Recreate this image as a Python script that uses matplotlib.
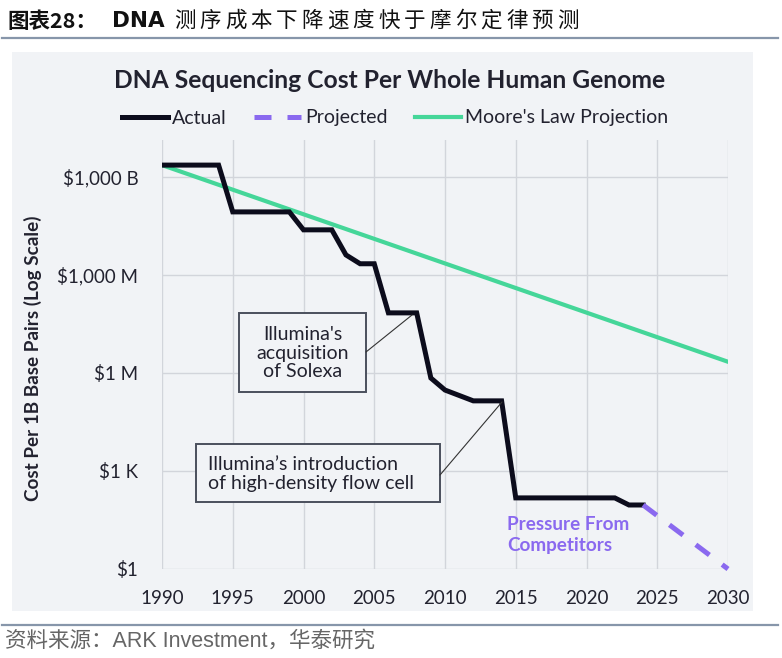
import matplotlib
matplotlib.use("Agg")
import matplotlib.pyplot as plt
from matplotlib.patches import Rectangle
from matplotlib.ticker import NullLocator, FixedLocator, FixedFormatter

# ---------------- data ----------------
actual_years = [1990, 1994, 1995, 1999, 2000, 2002, 2003, 2004, 2005, 2006, 2008,
                2009, 2010, 2012, 2014, 2015, 2022, 2023, 2024]
actual_cost = [2.3e12, 2.3e12, 8.5e10, 8.5e10, 2.4e10, 2.4e10, 4.1e9, 2.2e9, 2.2e9,
               6.9e7, 6.9e7, 7.0e5, 3.0e5, 1.4e5, 1.4e5, 150, 150, 91, 91]
proj_years = [2024, 2030]
proj_cost = [91, 1]
moore_years = [1990, 2030]
moore_cost = [2.3e12, 2.2e6]

ytick_vals = [1, 1e3, 1e6, 1e9, 1e12]
ytick_labels = ["$1", "$1 K", "$1 M", "$1,000 M", "$1,000 B"]
xtick_vals = [1990, 1995, 2000, 2005, 2010, 2015, 2020, 2025, 2030]

# ---------------- style ----------------
W, H = 782, 658
FONT = "Lato"
CJK = ["Noto Sans CJK SC", "DejaVu Sans"]
PANEL = "#f1f3f6"
TXT = "#22222f"
BLACK = "#0c0c1c"
GREEN = "#45d699"
PURPLE = "#8a69ef"
GRID = "#d2d5db"

plt.rcParams["font.family"] = [FONT, "DejaVu Sans"]

fig = plt.figure(figsize=(W / 100, H / 100), dpi=100)
fig.patch.set_facecolor("white")

def fx(px):
    return px / W

def fy(py):
    return 1 - py / H

# panel background
fig.patches.append(Rectangle((fx(12), fy(611)), fx(753) - fx(12), fy(52) - fy(611),
                             transform=fig.transFigure, facecolor=PANEL,
                             edgecolor="none", zorder=-10))

# top / bottom rules
fig.add_artist(plt.Line2D([fx(2), fx(778)], [fy(38), fy(38)], color="#8796aa", lw=1.6))
fig.add_artist(plt.Line2D([fx(2), fx(778)], [fy(625), fy(625)], color="#8796aa", lw=1.6))

# Chinese header (split weights)
ty = fy(21)
fig.text(fx(7), ty, "图表28：", fontsize=15.5, fontweight="bold",
         family=CJK, va="center", ha="left", color="#111111")
fig.text(fx(112), ty, "DNA", fontsize=15.5, fontweight="bold",
         family=["DejaVu Sans"], va="center", ha="left", color="#111111")
rest = "测序成本下降速度快于摩尔定律预测"
x0 = 173
step = (582 - 173) / len(rest)
for i, ch in enumerate(rest):
    fig.text(fx(x0 + i * step + step * 0.45), ty, ch, fontsize=15.5, family=CJK,
             va="center", ha="center", color="#111111", fontweight="medium")

# footer
fig.text(fx(5), fy(641), "资料来源：ARK Investment，华泰研究", fontsize=15.5,
         family=["Liberation Sans", "Noto Sans CJK SC"], color="#666666",
         va="center", ha="left")

# chart title
fig.text(fx(390), fy(80), "DNA Sequencing Cost Per Whole Human Genome",
         fontsize=17.7, fontweight="bold", color=TXT, ha="center", va="center")

# y label
fig.text(fx(33), fy(358), "Cost Per 1B Base Pairs (Log Scale)", rotation=90,
         fontsize=13.6, fontweight="bold", color=TXT, ha="center", va="center")

# axes
ax_left, ax_right, ax_bottom, ax_top = 162, 728, 569, 140
ax = fig.add_axes([fx(ax_left), fy(ax_bottom), fx(ax_right) - fx(ax_left),
                   fy(ax_top) - fy(ax_bottom)])
ax.set_facecolor("none")
ax.set_yscale("log")
ax.set_xlim(1990, 2030)
ax.set_ylim(1, 10 ** 13.13)

l_actual, = ax.plot(actual_years, actual_cost, color=BLACK, lw=3.6,
                    solid_joinstyle="miter", label="Actual", zorder=4)
l_proj, = ax.plot(proj_years, proj_cost, color=PURPLE, lw=3.6,
                  linestyle=(0, (3.4, 3.2)), dash_capstyle="butt",
                  label="Projected", zorder=4, clip_on=False)
l_moore, = ax.plot(moore_years, moore_cost, color=GREEN, lw=3.0,
                   label="Moore's Law Projection", zorder=3)

for s in ax.spines.values():
    s.set_visible(False)
ax.yaxis.set_major_locator(FixedLocator(ytick_vals))
ax.yaxis.set_major_formatter(FixedFormatter(ytick_labels))
ax.yaxis.set_minor_locator(NullLocator())
ax.set_xticks(xtick_vals)
ax.set_xticklabels([str(v) for v in xtick_vals])
ax.tick_params(axis="both", length=0, labelsize=13.5, labelcolor=TXT)
ax.tick_params(axis="y", pad=17)
ax.tick_params(axis="x", pad=15)
ax.grid(True, color=GRID, lw=1.0, zorder=0)
ax.set_axisbelow(True)

# annotation boxes (axes fraction)
def axf(px, py):
    return ((px - ax_left) / (ax_right - ax_left),
            (ax_bottom - py) / (ax_bottom - ax_top))

def box(x0p, y0p, x1p, y1p):
    a = axf(x0p, y1p)
    b = axf(x1p, y0p)
    ax.add_patch(Rectangle(a, b[0] - a[0], b[1] - a[1], transform=ax.transAxes,
                           facecolor=PANEL, edgecolor="#4a4f5c", lw=1.4, zorder=5))

box(239, 313, 366, 392)
ax.text(*axf(302.5, 353), "Illumina's\nacquisition\nof Solexa", transform=ax.transAxes,
        ha="center", va="center", fontsize=14, color=TXT, linespacing=1.1, zorder=6)
ax.annotate("", xy=axf(412, 315), xycoords="axes fraction",
            xytext=axf(366, 352), textcoords="axes fraction",
            arrowprops=dict(arrowstyle="-", lw=0.8, color="#333333",
                            shrinkA=0, shrinkB=0), zorder=5)

box(196, 444, 440, 502)
ax.text(*axf(208, 474), "Illumina\u2019s introduction\nof high-density flow cell",
        transform=ax.transAxes, ha="left", va="center", fontsize=14, color=TXT,
        linespacing=1.15, zorder=6)
ax.annotate("", xy=axf(502, 402), xycoords="axes fraction",
            xytext=axf(440, 475), textcoords="axes fraction",
            arrowprops=dict(arrowstyle="-", lw=0.8, color="#333333",
                            shrinkA=0, shrinkB=0), zorder=5)

ax.text(*axf(507, 535), "Pressure From\nCompetitors", transform=ax.transAxes,
        ha="left", va="center", fontsize=13.6, fontweight="bold", color=PURPLE,
        linespacing=1.3, zorder=6)

# legend
leg = fig.legend(handles=[l_actual, l_proj, l_moore], loc="center",
                 bbox_to_anchor=(fx(395), fy(118)), ncol=3, frameon=False,
                 fontsize=14, handlelength=2.4, handletextpad=0.2,
                 columnspacing=1.4, labelcolor=TXT)

fig.savefig("out.png", dpi=100, facecolor="white")
